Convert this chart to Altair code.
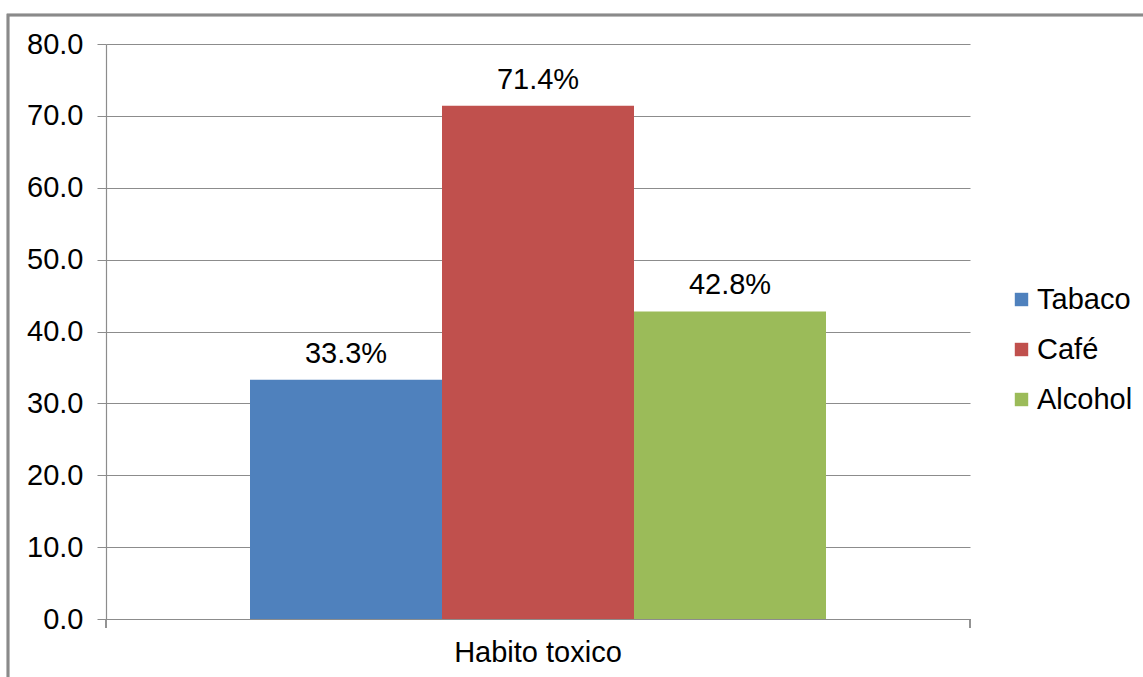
import altair as alt
import pandas as pd

series = ["Tabaco", "Café", "Alcohol"]
values = [33.3, 71.4, 42.8]
labels = ["33.3%", "71.4%", "42.8%"]
category = "Habito toxico"
colors = ["#4F81BD", "#C0504D", "#9BBB59"]
y_ticks = [0, 10, 20, 30, 40, 50, 60, 70, 80]

df = pd.DataFrame({
    "habito": [category] * len(series),
    "serie": series,
    "valor": values,
    "etiqueta": labels,
})

W, H = 864, 575
FONT = "Liberation Sans"
FS = 29
GRAY = "#8c8c8c"

x_enc = alt.X(
    "habito:N",
    title=None,
    scale=alt.Scale(paddingOuter=0.25, paddingInner=0),
    axis=alt.Axis(
        ticks=False, labelAngle=0, labelFontSize=FS, labelFont=FONT,
        labelColor="#000000", labelPadding=19, domainColor=GRAY, domainWidth=1.2,
    ),
)
xoff_enc = alt.XOffset("serie:N", sort=series, scale=alt.Scale(paddingInner=0, paddingOuter=0))
y_enc = alt.Y(
    "valor:Q",
    title=None,
    scale=alt.Scale(domain=[0, 80], nice=False),
    axis=alt.Axis(
        values=y_ticks, format=".1f", labelFontSize=FS, labelFont=FONT,
        labelColor="#000000", labelPadding=14, tickSize=9, tickColor=GRAY,
        domainColor=GRAY, gridColor=GRAY, gridWidth=1, domainWidth=1.2,
    ),
)

base = alt.Chart(df)

bars = base.mark_bar().encode(
    x=x_enc,
    xOffset=xoff_enc,
    y=y_enc,
    color=alt.Color(
        "serie:N",
        sort=series,
        scale=alt.Scale(domain=series, range=colors),
        legend=alt.Legend(
            title=None, orient="none", legendX=W + 37, legendY=241,
            symbolType="square", symbolSize=180, symbolStrokeWidth=0,
            labelFontSize=FS, labelFont=FONT, labelColor="#000000",
            rowPadding=20, labelOffset=1,
        ),
    ),
)

text = base.mark_text(
    baseline="alphabetic", dy=-17, fontSize=FS, font=FONT, color="#000000"
).encode(
    x=alt.X("habito:N"),
    xOffset=xoff_enc,
    y=alt.Y("valor:Q"),
    text="etiqueta:N",
)

tick_l = base.mark_rule(color=GRAY, strokeWidth=1.2).encode(
    x=alt.value(0), y=alt.value(H), y2=alt.value(H + 9)
)
tick_r = base.mark_rule(color=GRAY, strokeWidth=1.2).encode(
    x=alt.value(W), y=alt.value(H), y2=alt.value(H + 9)
)
frame = base.mark_rect(fill=None, stroke="#8a8a8a", strokeWidth=2.5).encode(
    x=alt.value(-98), x2=alt.value(1143 - 106 + 20),
    y=alt.value(-29), y2=alt.value(677 - 44 + 20),
)

chart = alt.layer(frame, bars, text, tick_l, tick_r).properties(
    width=W, height=H,
    autosize=alt.AutoSizeParams(type="none"),
    padding={"left": 106, "top": 44, "right": 1143 - 106 - W, "bottom": 677 - 44 - H},
    background="#ffffff",
).configure_view(stroke=None)

chart.save("out.html", embed_options={"renderer": "svg", "actions": False})
